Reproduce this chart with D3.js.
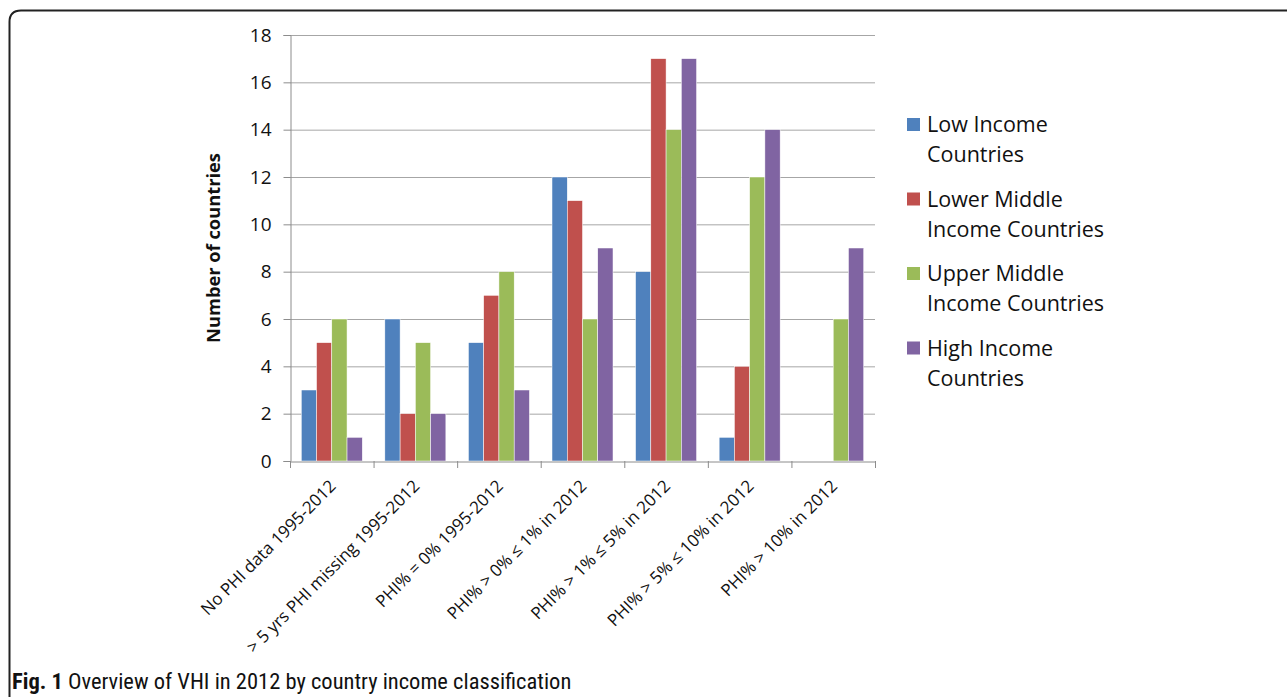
<!DOCTYPE html>
<html>
<head>
<meta charset="utf-8">
<script src="https://cdn.jsdelivr.net/npm/d3@7"></script>
<style>
  body { margin: 0; background: #fff; }
  svg { display: block; }
</style>
</head>
<body>
<div id="chart"></div>
<script>
// Chart data
const categories = [
  'No PHI data 1995-2012',
  '> 5 yrs PHI missing 1995-2012',
  'PHI% = 0% 1995-2012',
  'PHI% > 0% ≤ 1% in 2012',
  'PHI% > 1% ≤ 5% in 2012',
  'PHI% > 5% ≤ 10% in 2012',
  'PHI% > 10% in 2012'
];
const seriesNames = [
  ['Low Income', 'Countries'],
  ['Lower Middle', 'Income Countries'],
  ['Upper Middle', 'Income Countries'],
  ['High Income', 'Countries']
];
const lowIncome = [3, 6, 5, 12, 8, 1, 0];
const lowerMiddle = [5, 2, 7, 11, 17, 4, 0];
const upperMiddle = [6, 5, 8, 6, 14, 12, 6];
const highIncome = [1, 2, 3, 9, 17, 14, 9];
const yTicks = [0, 2, 4, 6, 8, 10, 12, 14, 16, 18];

const colors = ['#4F81BD', '#C0504D', '#9BBB59', '#8064A2'];
const seriesValues = [lowIncome, lowerMiddle, upperMiddle, highIncome];

const W = 1287, H = 697;
const plot = { left: 290, right: 875, top: 35, bottom: 461 };
const font = '"Open Sans", Lato, sans-serif';

const svg = d3.select('#chart').append('svg')
  .attr('width', W)
  .attr('height', H);

// Figure frame (rounded top-left corner)
svg.append('path')
  .attr('d', `M9.5,${H} L9.5,22 Q9.5,10.5 21,10.5 L${W},10.5`)
  .attr('fill', 'none')
  .attr('stroke', '#222')
  .attr('stroke-width', 2);

// Scales
const x0 = d3.scaleBand()
  .domain(categories)
  .range([plot.left, plot.right])
  .padding(0);

const bw = x0.bandwidth();
const x1 = d3.scaleBand()
  .domain(d3.range(seriesValues.length))
  .range([bw * 0.135, bw * 0.865])
  .padding(0);

const y = d3.scaleLinear()
  .domain([0, 18])
  .range([plot.bottom, plot.top]);

// Gridlines
svg.append('g')
  .selectAll('line')
  .data(yTicks.filter(d => d > 0))
  .enter()
  .append('line')
  .attr('x1', plot.left)
  .attr('x2', plot.right)
  .attr('y1', d => y(d) + 0.5)
  .attr('y2', d => y(d) + 0.5)
  .attr('stroke', '#a6a6a6')
  .attr('stroke-width', 1);

// Bars
const groups = svg.append('g')
  .selectAll('g')
  .data(categories)
  .enter()
  .append('g')
  .attr('transform', d => `translate(${x0(d)},0)`);

groups.selectAll('rect')
  .data((d, i) => seriesValues.map((vals, s) => ({ s, v: vals[i] })))
  .enter()
  .append('rect')
  .attr('x', d => x1(d.s))
  .attr('y', d => y(d.v))
  .attr('width', x1.bandwidth())
  .attr('height', d => y(0) - y(d.v))
  .attr('fill', d => colors[d.s])
  .attr('stroke', '#fff')
  .attr('stroke-width', 0.5);

// Y axis
const yAxis = svg.append('g')
  .attr('transform', `translate(${plot.left + 0.5},0)`)
  .call(d3.axisLeft(y).tickValues(yTicks).tickSize(7).tickPadding(12));

yAxis.select('.domain').attr('stroke', '#8c8c8c');
yAxis.selectAll('.tick line').attr('stroke', '#8c8c8c');
yAxis.selectAll('.tick text')
  .attr('fill', '#111')
  .style('font-family', font)
  .style('font-size', '19px');

// X axis
const xAxis = svg.append('g')
  .attr('transform', `translate(0,${plot.bottom + 0.5})`)
  .call(d3.axisBottom(x0).tickSize(0).tickFormat(''));

xAxis.select('.domain').attr('stroke', '#8c8c8c');

// Category boundary ticks
svg.append('g')
  .selectAll('line')
  .data(categories.map(c => x0(c)).concat([plot.right]))
  .enter()
  .append('line')
  .attr('x1', d => d + 0.5)
  .attr('x2', d => d + 0.5)
  .attr('y1', plot.bottom)
  .attr('y2', plot.bottom + 7)
  .attr('stroke', '#8c8c8c');

// Rotated category labels
svg.append('g')
  .selectAll('text')
  .data(categories)
  .enter()
  .append('text')
  .attr('transform', d => `translate(${x0(d) + bw / 2 + 1},${plot.bottom + 22}) rotate(-45)`)
  .attr('text-anchor', 'end')
  .attr('dy', '0.35em')
  .attr('fill', '#111')
  .style('font-family', font)
  .style('font-size', '17px')
  .text(d => d);

// Y axis title
svg.append('text')
  .attr('transform', `translate(220,${(plot.top + plot.bottom) / 2}) rotate(-90)`)
  .attr('text-anchor', 'middle')
  .attr('fill', '#111')
  .style('font-family', font)
  .style('font-size', '18.3px')
  .style('font-weight', 'bold')
  .text('Number of countries');

// Legend
const legend = svg.append('g')
  .attr('transform', 'translate(907,118)');

const items = legend.selectAll('g')
  .data(seriesNames)
  .enter()
  .append('g')
  .attr('transform', (d, i) => `translate(0,${i * 74.5})`);

items.append('rect')
  .attr('width', 13)
  .attr('height', 13)
  .attr('fill', (d, i) => colors[i]);

items.append('text')
  .attr('x', 20)
  .attr('y', 14)
  .attr('fill', '#111')
  .style('font-family', font)
  .style('font-size', '21.5px')
  .selectAll('tspan')
  .data(d => d)
  .enter()
  .append('tspan')
  .attr('x', 20)
  .attr('dy', (d, i) => i === 0 ? 0 : 30)
  .text(d => d);

// Caption
const caption = svg.append('text')
  .attr('x', 12)
  .attr('y', 689)
  .attr('fill', '#111')
  .style('font-family', '"Liberation Sans Narrow", "Roboto Condensed", "Open Sans", sans-serif')
  .style('font-size', '22.5px');

caption.append('tspan')
  .style('font-weight', 'bold')
  .text('Fig. 1');

caption.append('tspan')
  .text(' Overview of VHI in 2012 by country income classification');
</script>
</body>
</html>
